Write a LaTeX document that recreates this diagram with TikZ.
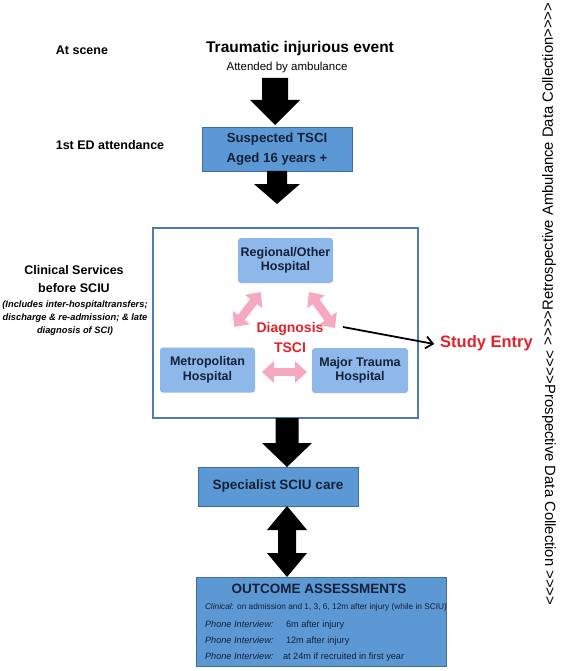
\documentclass[tikz,border=0pt]{standalone}
\usepackage{fontspec}
\setmainfont{Liberation Sans}
\newfontfamily\sidefont{Liberation Sans}[Ligatures=TeXOff]
\usetikzlibrary{arrows.meta,calc}
\definecolor{boxblue}{HTML}{5C99D4}
\definecolor{boxedge}{HTML}{3F6E9E}
\definecolor{hospblue}{HTML}{8EB8EA}
\definecolor{frameblue}{HTML}{4E7AAE}
\definecolor{pinkar}{HTML}{F6A9BE}
\definecolor{navy}{HTML}{152038}
\definecolor{dxred}{HTML}{E5202A}
\newcommand\fsz[2]{\fontsize{#1}{#2}\selectfont}
% x centre, y top, y head base, y tip, shaft half width, head half width
\newcommand\blkdown[6]{\fill[black] (#1-#5,#2) -- (#1+#5,#2) -- (#1+#5,#3) -- (#1+#6,#3) -- (#1,#4) -- (#1-#6,#3) -- (#1-#5,#3) -- cycle;}
\begin{document}
\begin{tikzpicture}[x=1pt,y=-1pt,
  every node/.style={inner sep=0pt, outer sep=0pt},
  sidelbl/.style={font=\bfseries\fsz{12.5}{18}, align=center},
  bluebox/.style={draw=boxedge, fill=boxblue, line width=0.9pt, text=navy, align=center},
  hosp/.style={fill=hospblue, rounded corners=3pt, text=navy, align=center,
    font=\bfseries\fsz{12.5}{14.5}, minimum width=95pt, minimum height=45pt},
  pinkdbl/.style={draw=pinkar, line width=8.5pt, {Triangle[width=21pt,length=12pt]}-{Triangle[width=21pt,length=12pt]}},
  outline/.style={font=\fsz{8.3}{10}, text=navy, anchor=base west},
  phone/.style={font=\fsz{9.2}{11}, text=navy, anchor=base west},
  sidetext/.style={font=\sidefont\fsz{14.8}{18}, anchor=west}
]
\useasboundingbox (0,0) rectangle (565,671);

% left column labels
\node[sidelbl] (atscene) at (82,50) {At scene};
\node[sidelbl] (edlbl) at (110,145) {1st ED attendance};
\node[sidelbl] (clinlbl) at (74,279) {Clinical Services\\before SCIU};
\node[font=\bfseries\itshape\fsz{9.3}{13}, align=center] (clinnote) at (75,318)
  {(Includes inter-hospitaltransfers;\\discharge \& re-admission; \& late\\diagnosis of SCI)};

% top event
\node[font=\bfseries\fsz{15.5}{18}] (event) at (300,48) {Traumatic injurious event};
\node[font=\fsz{11.5}{14}] (amb) at (287,68) {Attended by ambulance};

% suspected box
\node[bluebox, minimum width=150pt, minimum height=44pt, font=\bfseries\fsz{13.2}{19.5}] (susp) at (277,149)
  {Suspected TSCI\\Aged 16 years +};

% frame with hospitals
\node[draw=frameblue, line width=1.8pt, fill=white, minimum width=265pt, minimum height=190pt] (frame) at (285.5,323) {};
\node[hosp] (reg) at (285.5,260.5) {Regional/Other\\Hospital};
\node[hosp] (met) at (207.5,370) {Metropolitan\\Hospital};
\node[hosp, minimum width=96pt] (maj) at (360,370.5) {Major Trauma\\Hospital};
\node[font=\bfseries\fsz{14}{20}, text=dxred, align=center] (dx) at (290,337) {Diagnosis\\TSCI};

\coordinate (la1) at (234,327); \coordinate (la2) at (261,292);
\coordinate (ra1) at (309,292); \coordinate (ra2) at (335,328);
\coordinate (ha1) at (262,372); \coordinate (ha2) at (307,372);
\draw[pinkdbl] (la1) -- (la2);
\draw[pinkdbl] (ra1) -- (ra2);
\draw[pinkdbl] (ha1) -- (ha2);

% study entry
\node[font=\bfseries\fsz{16.5}{20}, text=dxred] (study) at (486.5,343) {Study Entry};
\coordinate (sestart) at (343,327);
\draw[line width=1.8pt, -{Straight Barb[length=7pt,width=12pt,line width=1.8pt]}] (sestart) -- ($(study.west)+(-6,1)$);

% SCIU box
\node[bluebox, minimum width=160pt, minimum height=39pt, font=\bfseries\fsz{13.5}{16}] (sciu) at (278,486.5)
  {Specialist SCIU care};

% outcome box
\node[bluebox, minimum width=250pt, minimum height=89pt] (out) at (321,621.5) {};
\node[font=\bfseries\fsz{13.5}{16}, text=navy] (outtitle) at (319,589) {OUTCOME ASSESSMENTS};
\node[outline] (o1) at (205,609) {\textit{Clinical:} on admission and 1, 3, 6, 12m after injury (while in SCIU)};
\node[phone] (o2) at (205,627) {\textit{Phone Interview:}};
\node[phone] (o2v) at (286,627) {6m after injury};
\node[phone] (o3) at (205,643) {\textit{Phone Interview:}};
\node[phone] (o3v) at (286,643) {12m after injury};
\node[phone] (o4) at (205,659) {\textit{Phone Interview:}};
\node[phone] (o4v) at (283,659) {at 24m if recruited in first year};

% black block arrows
\blkdown{275}{78}{100}{125}{13}{25}
\blkdown{277}{171}{184}{204}{10}{23}
\blkdown{287}{418}{443}{467}{11.5}{25}
\fill[black] (287,506) -- (307,530) -- (296,530) -- (296,553) -- (307,553) -- (287,577)
  -- (267,553) -- (278,553) -- (278,530) -- (267,530) -- cycle;

% right side vertical texts
\node[sidetext, rotate=90] (retro) at (549,345) {>>>>Retrospective Ambulance Data Collection>>>>};
\node[sidetext, rotate=-90] (prosp) at (549,350) {>>>>Prospective Data Collection >>>>};
\end{tikzpicture}
\end{document}
